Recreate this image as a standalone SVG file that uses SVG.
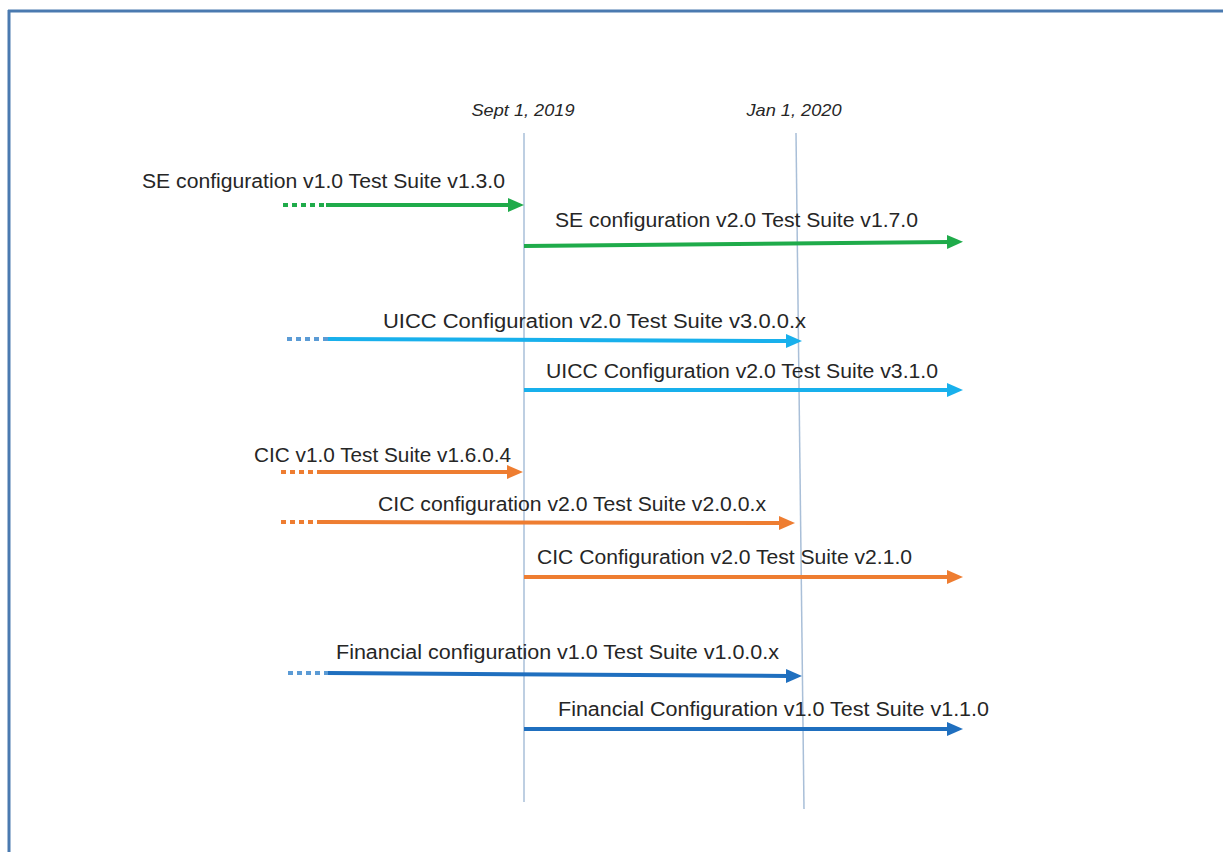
<svg xmlns="http://www.w3.org/2000/svg" width="1223" height="852" viewBox="0 0 1223 852">
<style>
.lbl{font-family:"Liberation Sans",Arial,sans-serif;font-size:20px;fill:#262626;}
.date{font-family:"Liberation Sans",Arial,sans-serif;font-size:17px;font-style:italic;fill:#262626;}
.tl{stroke:#a9bfd8;stroke-width:1.5;fill:none;}
.a{fill:none;stroke-width:4;stroke-linecap:butt;}
.d{fill:none;stroke-width:4;stroke-dasharray:5 4;}
.g{stroke:#1fab4a;}
.lb{stroke:#18b0ec;}
.o{stroke:#ee7d31;}
.db{stroke:#1f6fbf;}
.dotb{stroke:#5b9bd5;}
</style>
<defs>
<marker id="mg" markerUnits="userSpaceOnUse" markerWidth="18" markerHeight="16" refX="2" refY="7" orient="auto"><path d="M0,0 L16,7 L0,14 z" fill="#1fab4a"/></marker>
<marker id="mlb" markerUnits="userSpaceOnUse" markerWidth="18" markerHeight="16" refX="2" refY="7" orient="auto"><path d="M0,0 L16,7 L0,14 z" fill="#18b0ec"/></marker>
<marker id="mo" markerUnits="userSpaceOnUse" markerWidth="18" markerHeight="16" refX="2" refY="7" orient="auto"><path d="M0,0 L16,7 L0,14 z" fill="#ee7d31"/></marker>
<marker id="mdb" markerUnits="userSpaceOnUse" markerWidth="18" markerHeight="16" refX="2" refY="7" orient="auto"><path d="M0,0 L16,7 L0,14 z" fill="#1f6fbf"/></marker>
</defs>
<rect x="0" y="0" width="1223" height="852" fill="#ffffff"/>
<g id="frame">
<line x1="8" y1="11" x2="1223" y2="11" stroke="#4a7ab0" stroke-width="3"/>
<line x1="9" y1="10" x2="9" y2="852" stroke="#4a7ab0" stroke-width="3"/>
</g>
<g id="timeline-sept">
<line class="tl" x1="524" y1="133" x2="524" y2="802"/>
<text class="date" x="523" y="116" text-anchor="middle" textLength="103" lengthAdjust="spacingAndGlyphs">Sept 1, 2019</text>
</g>
<g id="timeline-jan">
<line class="tl" x1="796" y1="133" x2="804" y2="809"/>
<text class="date" x="794" y="116" text-anchor="middle" textLength="95" lengthAdjust="spacingAndGlyphs">Jan 1, 2020</text>
</g>
<g id="connectors">
<line class="d g" x1="283" y1="205" x2="326" y2="205"/>
<line class="a g" x1="326" y1="205" x2="510" y2="205" marker-end="url(#mg)"/>
<line class="a g" x1="524" y1="246" x2="949" y2="242" marker-end="url(#mg)"/>
<line class="d dotb" x1="287" y1="339" x2="328" y2="339"/>
<line class="a lb" x1="328" y1="339" x2="788" y2="341" marker-end="url(#mlb)"/>
<line class="a lb" x1="524" y1="390" x2="949" y2="390" marker-end="url(#mlb)"/>
<line class="d o" x1="281" y1="472" x2="320" y2="472"/>
<line class="a o" x1="320" y1="472" x2="509" y2="472" marker-end="url(#mo)"/>
<line class="d o" x1="281" y1="522" x2="320" y2="522"/>
<line class="a o" x1="320" y1="522" x2="781" y2="523" marker-end="url(#mo)"/>
<line class="a o" x1="524" y1="577" x2="949" y2="577" marker-end="url(#mo)"/>
<line class="d dotb" x1="288" y1="673" x2="328" y2="673"/>
<line class="a db" x1="328" y1="673" x2="788" y2="676" marker-end="url(#mdb)"/>
<line class="a db" x1="524" y1="729" x2="949" y2="729" marker-end="url(#mdb)"/>
</g>
<g id="se-v1">
<text class="lbl" x="142" y="188" textLength="363" lengthAdjust="spacingAndGlyphs">SE configuration v1.0 Test Suite v1.3.0</text>
</g>
<g id="se-v2">
<text class="lbl" x="555" y="227" textLength="363" lengthAdjust="spacingAndGlyphs">SE configuration v2.0 Test Suite v1.7.0</text>
</g>
<g id="uicc-300x">
<text class="lbl" x="383" y="328" textLength="423" lengthAdjust="spacingAndGlyphs">UICC Configuration v2.0 Test Suite v3.0.0.x</text>
</g>
<g id="uicc-310">
<text class="lbl" x="546" y="378" textLength="392" lengthAdjust="spacingAndGlyphs">UICC Configuration v2.0 Test Suite v3.1.0</text>
</g>
<g id="cic-v1">
<text class="lbl" x="254" y="462" textLength="257" lengthAdjust="spacingAndGlyphs">CIC v1.0 Test Suite v1.6.0.4</text>
</g>
<g id="cic-200x">
<text class="lbl" x="378" y="511" textLength="388" lengthAdjust="spacingAndGlyphs">CIC configuration v2.0 Test Suite v2.0.0.x</text>
</g>
<g id="cic-210">
<text class="lbl" x="537" y="564" textLength="375" lengthAdjust="spacingAndGlyphs">CIC Configuration v2.0 Test Suite v2.1.0</text>
</g>
<g id="fin-100x">
<text class="lbl" x="336" y="659" textLength="443" lengthAdjust="spacingAndGlyphs">Financial configuration v1.0 Test Suite v1.0.0.x</text>
</g>
<g id="fin-110">
<text class="lbl" x="558" y="716" textLength="431" lengthAdjust="spacingAndGlyphs">Financial Configuration v1.0 Test Suite v1.1.0</text>
</g>
</svg>
